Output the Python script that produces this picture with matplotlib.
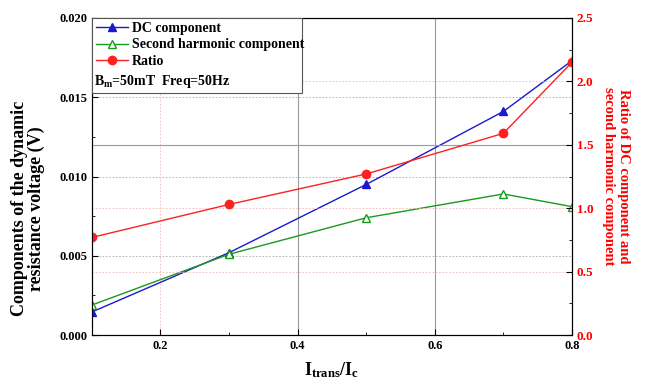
import matplotlib
matplotlib.use("Agg")
import matplotlib.pyplot as plt
from matplotlib.ticker import MultipleLocator
from matplotlib.patches import Rectangle

plt.rcParams['font.family'] = ['Liberation Serif', 'DejaVu Serif']
plt.rcParams['font.weight'] = 'bold'
plt.rcParams['mathtext.fontset'] = 'custom'
plt.rcParams['mathtext.rm'] = 'Liberation Serif:weight=bold'
plt.rcParams['mathtext.it'] = 'Liberation Serif:weight=bold'
plt.rcParams['mathtext.bf'] = 'Liberation Serif:weight=bold'

x = [0.1, 0.3, 0.5, 0.7, 0.8]
dc = [0.00146, 0.0052, 0.0095, 0.0141, 0.0173]
second = [0.0019, 0.0051, 0.0074, 0.0089, 0.0081]
ratio = [0.77, 1.03, 1.27, 1.59, 2.15]

fig = plt.figure(figsize=(6.47, 3.80), dpi=100)
ax = fig.add_axes([0.142, 0.118, 0.742, 0.835])
ax2 = ax.twinx()

# grid lines, loosely as in the original
for v in [0.005, 0.010, 0.015]:
    ax.axhline(v, color='#aaaaaa', lw=0.6, ls=(0, (2, 2)), zorder=0)
for v in [0.5, 1.0, 2.0]:
    ax2.axhline(v, color='#f4b8b8', lw=0.6, ls=(0, (2, 2)), zorder=0)
ax2.axhline(1.5, color='#999999', lw=0.8, zorder=0)
ax.axvline(0.2, color='#f4b8b8', lw=0.6, ls=(0, (2, 2)), zorder=0)
ax.axvline(0.4, color='#999999', lw=0.8, zorder=0)
ax.axvline(0.6, color='#999999', lw=0.8, zorder=0)

l1, = ax.plot(x, dc, color='#1a1acc', lw=1.0, marker='^', ms=6,
              mfc='#1a1acc', mec='#1a1acc', label='DC component')
l2, = ax.plot(x, second, color='#1a9a1a', lw=1.0, marker='^', ms=6,
              mfc='white', mec='#1a9a1a', label='Second harmonic component')
l3, = ax2.plot(x, ratio, color='#ff2020', lw=1.0, marker='o', ms=6,
               mfc='#ff2020', mec='#ff2020', label='Ratio')

ax.set_xlim(0.1, 0.8)
ax.set_ylim(0, 0.02)
ax2.set_ylim(0, 2.5)

ax.xaxis.set_major_locator(MultipleLocator(0.2))
ax.xaxis.set_minor_locator(MultipleLocator(0.1))
ax.yaxis.set_major_locator(MultipleLocator(0.005))
ax.yaxis.set_minor_locator(MultipleLocator(0.0025))
ax2.yaxis.set_major_locator(MultipleLocator(0.5))
ax2.yaxis.set_minor_locator(MultipleLocator(0.25))
ax.xaxis.set_major_formatter(lambda v, p: f'{v:.1f}')
ax.yaxis.set_major_formatter(lambda v, p: f'{v:.3f}')
ax2.yaxis.set_major_formatter(lambda v, p: f'{v:.1f}')

ax.tick_params(axis='both', which='both', direction='in', labelsize=9)
ax.tick_params(which='major', length=4)
ax.tick_params(which='minor', length=2.5)
ax2.tick_params(axis='y', which='both', direction='in', labelsize=9.5,
                colors='black', labelcolor='red')
ax2.tick_params(axis='y', which='major', length=4)
ax2.tick_params(axis='y', which='minor', length=2.5)

ax.set_xlabel(r'$\mathbf{I_{trans}/I_c}$', fontsize=13, labelpad=6)
ax.set_ylabel('Components of the dynamic\nresistance voltage (V)',
              fontsize=13, fontweight='bold', linespacing=1.0)
ax.yaxis.set_label_coords(-0.098, 0.40)
ax2.set_ylabel('Ratio of DC component and\nsecond harmonic component',
               fontsize=10.5, fontweight='bold', color='red', rotation=270,
               labelpad=26)

# legend box drawn by hand so the extra text line fits inside
box = Rectangle((0, 0.763), 0.4375, 0.237, transform=ax.transAxes,
                facecolor='white', edgecolor='#555555', lw=0.8, zorder=4)
ax2.add_patch(box)
leg = ax2.legend(handles=[l1, l2, l3], loc='upper left',
                 bbox_to_anchor=(0.0, 1.0), fontsize=10, frameon=False,
                 borderaxespad=0, handlelength=2.3, handletextpad=0.3,
                 labelspacing=0.25, borderpad=0.3)
leg.set_zorder(5)
ax2.text(0.005, 0.801, r'B$_\mathbf{m}$=50mT  Freq=50Hz', transform=ax.transAxes,
         fontsize=10, fontweight='bold', va='center', ha='left', zorder=6)

fig.savefig('out.png', dpi=100)
